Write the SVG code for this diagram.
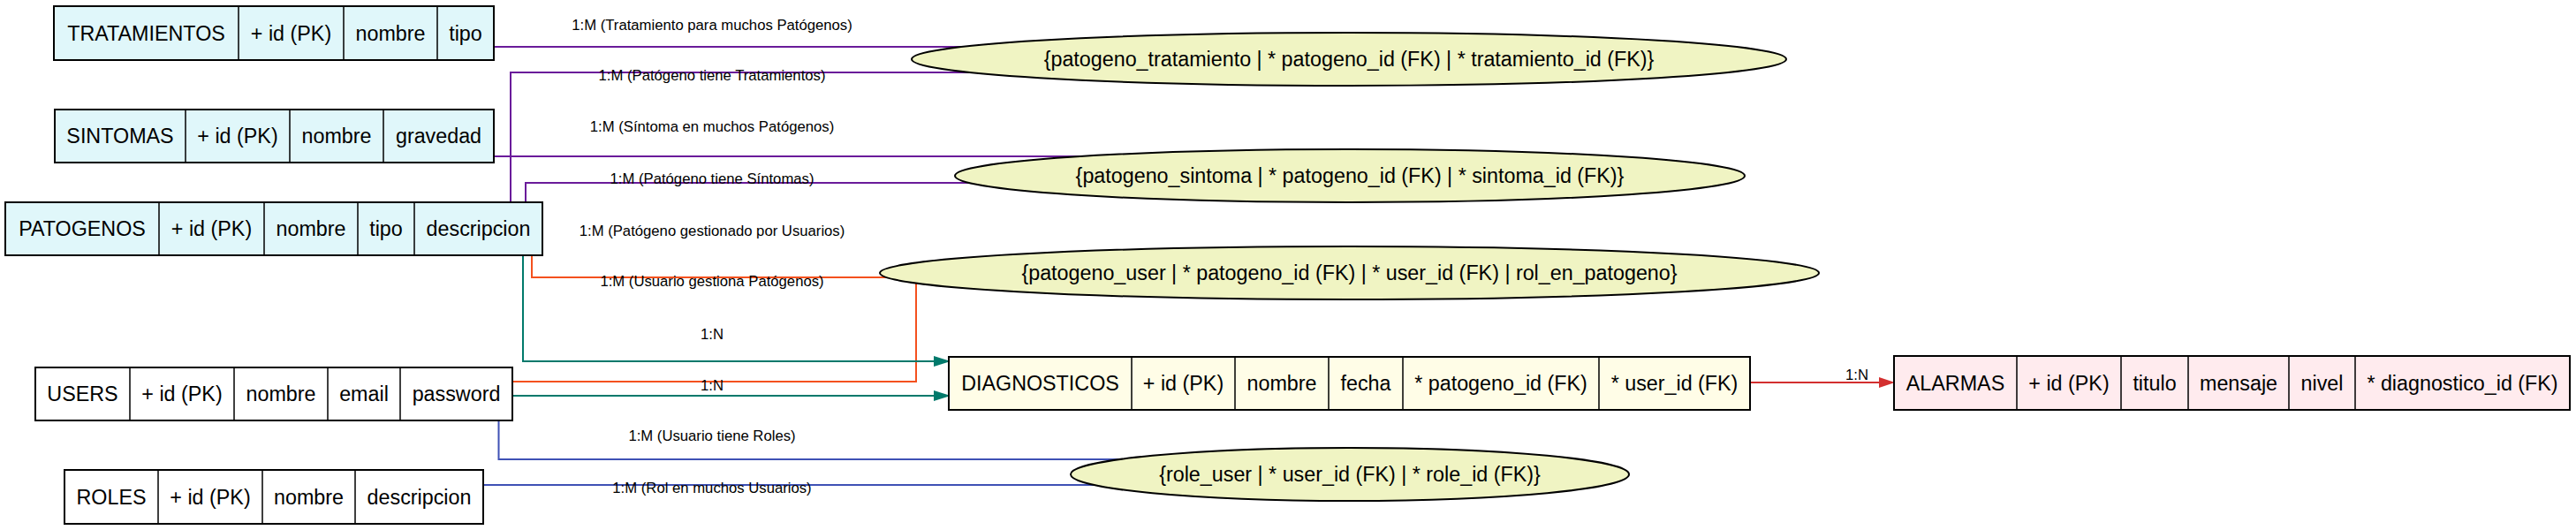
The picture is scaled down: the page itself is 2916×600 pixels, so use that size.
<svg xmlns="http://www.w3.org/2000/svg" width="2916" height="600" viewBox="0 0 2916 600">
<style>
.bg{fill:#ffffff}
.box{stroke:#000;stroke-width:2}
.div{stroke:#000;stroke-width:1.5}
.cyan{fill:#e0f7fa}
.white{fill:#ffffff}
.yellow{fill:#fffde7}
.pink{fill:#ffebee}
.ell{fill:#f0f4c3;stroke:#000;stroke-width:2}
.t{font-family:"Liberation Sans",Arial,sans-serif;font-size:23.3px;fill:#000;text-anchor:middle}
.lbl{font-family:"Liberation Sans",Arial,sans-serif;font-size:16.7px;fill:#000;text-anchor:middle}
.e{fill:none;stroke-width:2}
.purple{stroke:#6a1b9a}
.orange{stroke:#f4511e}
.teal{stroke:#00796b}
.blue{stroke:#3f51b5}
.red{stroke:#d32f2f}
</style>
<defs>
<marker id="arrTeal" viewBox="0 0 19 12" refX="0" refY="6" markerWidth="19" markerHeight="12" markerUnits="userSpaceOnUse" orient="auto">
<path d="M0,0 L19,6 L0,12 z" fill="#00796b"/>
</marker>
<marker id="arrRed" viewBox="0 0 18 12" refX="0" refY="6" markerWidth="18" markerHeight="12" markerUnits="userSpaceOnUse" orient="auto">
<path d="M0,0 L18,6 L0,12 z" fill="#d32f2f"/>
</marker>
</defs>
<rect class="bg" x="0" y="0" width="2916" height="600"/>

<g id="connectors">
<path class="e purple" d="M559,53 H1089"/>
<path class="e purple" d="M578,229 V82 H1098"/>
<path class="e purple" d="M559,177 H1224"/>
<path class="e purple" d="M595,229 V207 H1097"/>
<path class="e orange" d="M602,289 V314 H1003"/>
<path class="e orange" d="M580,432 H1037 V321"/>
<path class="e teal" d="M592,289 V409 H1057" marker-end="url(#arrTeal)"/>
<path class="e teal" d="M580,448 H1057" marker-end="url(#arrTeal)"/>
<path class="e blue" d="M564.5,476 V520 H1268"/>
<path class="e blue" d="M548,549 H1238"/>
<path class="e red" d="M1981,433 H2127" marker-end="url(#arrRed)"/>
<text class="lbl" x="806" y="34">1:M (Tratamiento para muchos Patógenos)</text>
<text class="lbl" x="806" y="91">1:M (Patógeno tiene Tratamientos)</text>
<text class="lbl" x="806" y="149">1:M (Síntoma en muchos Patógenos)</text>
<text class="lbl" x="806" y="208">1:M (Patógeno tiene Síntomas)</text>
<text class="lbl" x="806" y="267">1:M (Patógeno gestionado por Usuarios)</text>
<text class="lbl" x="806" y="324">1:M (Usuario gestiona Patógenos)</text>
<text class="lbl" x="806" y="384">1:N</text>
<text class="lbl" x="806" y="442">1:N</text>
<text class="lbl" x="806" y="499">1:M (Usuario tiene Roles)</text>
<text class="lbl" x="806" y="558">1:M (Rol en muchos Usuarios)</text>
<text class="lbl" x="2102" y="430">1:N</text>
</g>

<g id="tratamientos">
<rect class="box cyan" x="61" y="7" width="498" height="61"/>
<path class="div" d="M270,7 V68 M389,7 V68 M495,7 V68"/>
<text class="t" x="165.5" y="46">TRATAMIENTOS</text>
<text class="t" x="329.5" y="46">+ id (PK)</text>
<text class="t" x="442" y="46">nombre</text>
<text class="t" x="527" y="46">tipo</text>
</g>

<g id="sintomas">
<rect class="box cyan" x="62" y="124" width="497" height="60"/>
<path class="div" d="M210,124 V184 M328,124 V184 M434,124 V184"/>
<text class="t" x="136" y="162">SINTOMAS</text>
<text class="t" x="269" y="162">+ id (PK)</text>
<text class="t" x="381" y="162">nombre</text>
<text class="t" x="496.5" y="162">gravedad</text>
</g>

<g id="patogenos">
<rect class="box cyan" x="6" y="229" width="608" height="60"/>
<path class="div" d="M180,229 V289 M299,229 V289 M405,229 V289 M469,229 V289"/>
<text class="t" x="93" y="267">PATOGENOS</text>
<text class="t" x="239.5" y="267">+ id (PK)</text>
<text class="t" x="352" y="267">nombre</text>
<text class="t" x="437" y="267">tipo</text>
<text class="t" x="541.5" y="267">descripcion</text>
</g>

<g id="users">
<rect class="box white" x="40" y="416" width="540" height="60"/>
<path class="div" d="M147,416 V476 M265,416 V476 M371,416 V476 M453,416 V476"/>
<text class="t" x="93.5" y="454">USERS</text>
<text class="t" x="206" y="454">+ id (PK)</text>
<text class="t" x="318" y="454">nombre</text>
<text class="t" x="412" y="454">email</text>
<text class="t" x="516.5" y="454">password</text>
</g>

<g id="roles">
<rect class="box white" x="73" y="532" width="474" height="61"/>
<path class="div" d="M179,532 V593 M297,532 V593 M402,532 V593"/>
<text class="t" x="126" y="571">ROLES</text>
<text class="t" x="238" y="571">+ id (PK)</text>
<text class="t" x="349.5" y="571">nombre</text>
<text class="t" x="474.5" y="571">descripcion</text>
</g>

<g id="diagnosticos">
<rect class="box yellow" x="1074" y="404" width="907" height="60"/>
<path class="div" d="M1281,404 V464 M1398,404 V464 M1504,404 V464 M1588,404 V464 M1810,404 V464"/>
<text class="t" x="1177.5" y="442">DIAGNOSTICOS</text>
<text class="t" x="1339.5" y="442">+ id (PK)</text>
<text class="t" x="1451" y="442">nombre</text>
<text class="t" x="1546" y="442">fecha</text>
<text class="t" x="1699" y="442">* patogeno_id (FK)</text>
<text class="t" x="1895.5" y="442">* user_id (FK)</text>
</g>

<g id="alarmas">
<rect class="box pink" x="2144" y="403" width="765" height="61"/>
<path class="div" d="M2283,403 V464 M2401,403 V464 M2477,403 V464 M2591,403 V464 M2666,403 V464"/>
<text class="t" x="2213.5" y="442">ALARMAS</text>
<text class="t" x="2342" y="442">+ id (PK)</text>
<text class="t" x="2439" y="442">titulo</text>
<text class="t" x="2534" y="442">mensaje</text>
<text class="t" x="2628.5" y="442">nivel</text>
<text class="t" x="2787.5" y="442">* diagnostico_id (FK)</text>
</g>

<g id="patogeno_tratamiento">
<ellipse class="ell" cx="1527" cy="67" rx="495" ry="30"/>
<text class="t" x="1527" y="75">{patogeno_tratamiento | * patogeno_id (FK) | * tratamiento_id (FK)}</text>
</g>

<g id="patogeno_sintoma">
<ellipse class="ell" cx="1528" cy="199" rx="447" ry="30"/>
<text class="t" x="1528" y="207">{patogeno_sintoma | * patogeno_id (FK) | * sintoma_id (FK)}</text>
</g>

<g id="patogeno_user">
<ellipse class="ell" cx="1527.5" cy="309" rx="531.5" ry="30"/>
<text class="t" x="1527.5" y="317">{patogeno_user | * patogeno_id (FK) | * user_id (FK) | rol_en_patogeno}</text>
</g>

<g id="role_user">
<ellipse class="ell" cx="1528" cy="537" rx="316" ry="30"/>
<text class="t" x="1528" y="545">{role_user | * user_id (FK) | * role_id (FK)}</text>
</g>
</svg>
